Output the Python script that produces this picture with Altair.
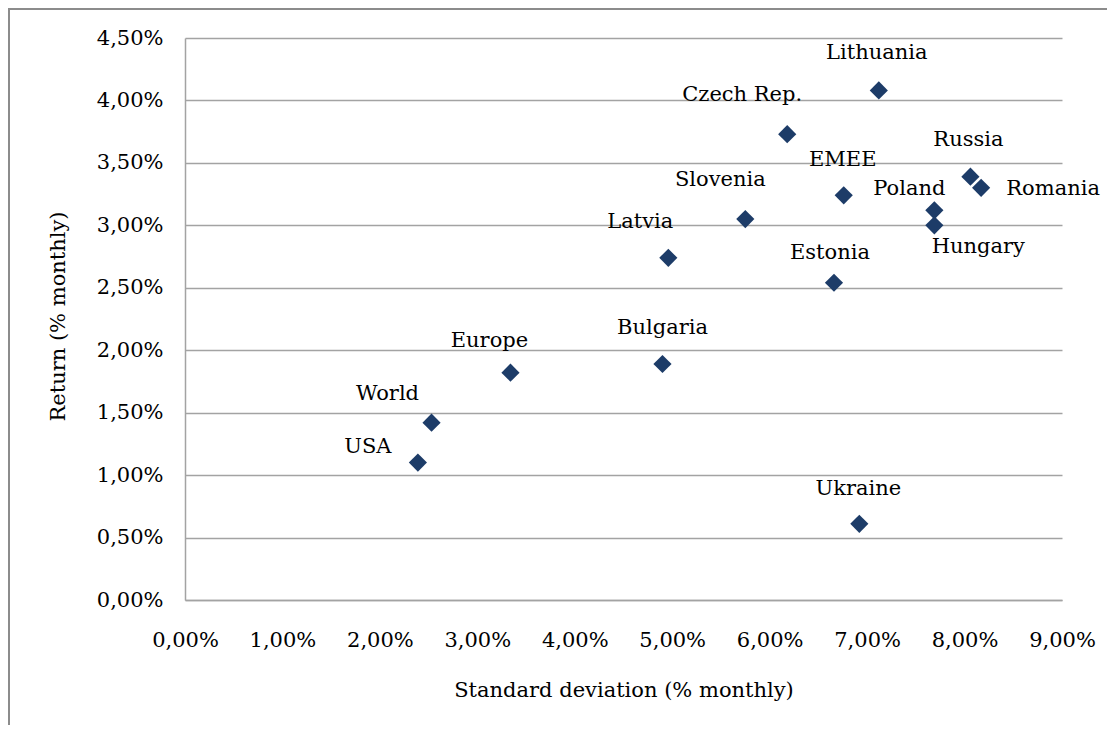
import altair as alt
import pandas as pd

countries = ["Lithuania", "Czech Rep.", "EMEE", "Russia", "Romania", "Poland",
             "Hungary", "Slovenia", "Latvia", "Estonia", "Bulgaria", "Europe",
             "World", "USA", "Ukraine"]
std_dev = [7.12, 6.18, 6.76, 8.06, 8.17, 7.69, 7.69, 5.75, 4.96, 6.66, 4.90, 3.34,
           2.53, 2.39, 6.92]
returns = [4.08, 3.73, 3.24, 3.39, 3.30, 3.12, 3.00, 3.05, 2.74, 2.54, 1.89, 1.82,
           1.42, 1.10, 0.61]
x_ticks = [0, 1, 2, 3, 4, 5, 6, 7, 8, 9]
y_ticks = [0, 0.5, 1, 1.5, 2, 2.5, 3, 3.5, 4, 4.5]

# label placement (pixel offsets from each marker), styling only
label_offsets = {
    "Lithuania": (-2, -37), "Czech Rep.": (-45, -39), "EMEE": (-1, -35),
    "Russia": (-2, -37), "Romania": (72, 1), "Poland": (-25, -21),
    "Hungary": (44, 22), "Slovenia": (-25, -39), "Latvia": (-28, -36),
    "Estonia": (-4, -30), "Bulgaria": (0, -36), "Europe": (-21, -32),
    "World": (-44, -29), "USA": (-50, -16), "Ukraine": (-1, -35),
}

df = pd.DataFrame({"country": countries, "sd": std_dev, "ret": returns})

W, H = 877, 562
FONT = "DejaVu Serif"
GRID = "#a3a3a3"
MARK = "#1d3c68"
fmt = "replace(format(datum.value, '.2f'), '.', ',') + '%'"

x_enc = alt.X("sd:Q",
              scale=alt.Scale(domain=[0, 9], nice=False, zero=True),
              axis=alt.Axis(values=x_ticks, labelExpr=fmt, grid=False, ticks=False,
                            domain=True, domainColor=GRID, domainWidth=1.5,
                            labelFont=FONT, labelFontSize=21, labelColor="#000000",
                            labelPadding=29, labelFlush=False,
                            title="Standard deviation (% monthly)",
                            titleFont=FONT, titleFontSize=21, titleFontWeight="normal",
                            titleColor="#000000", titleX=W / 2, titleY=90,
                            titleBaseline="middle", titleAnchor="middle"))
y_enc = alt.Y("ret:Q",
              scale=alt.Scale(domain=[0, 4.5], nice=False, zero=True),
              axis=alt.Axis(values=y_ticks, labelExpr=fmt, grid=True, gridColor=GRID,
                            gridWidth=1.5, ticks=False, domain=True, domainColor=GRID,
                            domainWidth=1.5,
                            labelFont=FONT, labelFontSize=21, labelColor="#000000",
                            labelPadding=22, labelFlush=False,
                            title="Return (% monthly)",
                            titleFont=FONT, titleFontSize=21, titleFontWeight="normal",
                            titleColor="#000000", titleX=-127, titleY=H / 2 - 3,
                            titleBaseline="middle", titleAnchor="middle"))

points = alt.Chart(df).mark_point(shape="diamond", filled=True, size=330,
                                  color=MARK, opacity=1).encode(x=x_enc, y=y_enc)

label_layers = []
for c in countries:
    dx, dy = label_offsets[c]
    label_layers.append(
        alt.Chart(df).transform_filter(alt.datum.country == c)
        .mark_text(font=FONT, fontSize=21, color="#000000", dx=dx, dy=dy,
                   align="center", baseline="middle")
        .encode(x=alt.X("sd:Q"), y=alt.Y("ret:Q"), text="country:N")
    )

frame = alt.Chart(alt.Data(values=[{}])).mark_rect(
    fillOpacity=0, stroke="#8c8c8c", strokeWidth=2
).encode(x=alt.value(-176), x2=alt.value(W + 100), y=alt.value(-29),
         y2=alt.value(H + 200))

chart = alt.layer(frame, points, *label_layers).properties(
    width=W, height=H,
    padding={"left": 177, "top": 30, "right": 45, "bottom": 125},
    autosize=alt.AutoSizeParams(type="none"),
    background="#ffffff",
).configure_view(stroke=None)

chart.save("out.html", embed_options={"renderer": "svg", "actions": False})
